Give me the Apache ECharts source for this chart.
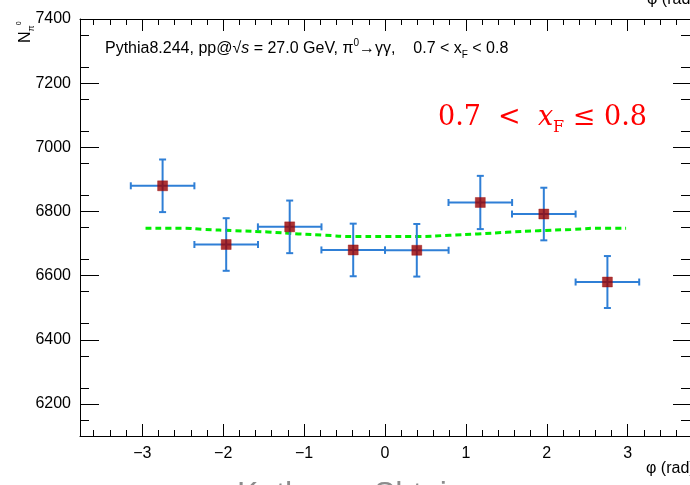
<!DOCTYPE html>
<html>
<head>
<meta charset="utf-8">
<script src="https://cdn.jsdelivr.net/npm/echarts@6/dist/echarts.min.js"></script>
<style>
html,body{margin:0;padding:0;background:#fff;}
#chart{width:690px;height:485px;}
</style>
</head>
<body>
<div id="chart"></div>
<script>
// ---- data ----
const phiCenters = [-2.749, -1.963, -1.178, -0.393, 0.393, 1.178, 1.963, 2.749];
const binHalfWidths = [0.393, 0.393, 0.393, 0.393, 0.393, 0.393, 0.393, 0.393];
const counts = [6880, 6697, 6752, 6680, 6679, 6828, 6792, 6580];
const countErrors = [82, 82, 82, 82, 82, 83, 82, 81];
const fitPhi = [-2.96, -2.50, -2.25, -1.85, -1.45, -1.07, -0.75, -0.40, 0.00, 0.40, 0.80, 1.15, 1.50, 1.90, 2.30, 2.70, 2.98];
const fitValues = [6748, 6748, 6744, 6740, 6736, 6730, 6726, 6722, 6722, 6722, 6726, 6730, 6735, 6740, 6744, 6748, 6748];
const xTickLabels = [-3, -2, -1, 0, 1, 2, 3];
const yTickLabels = [6200, 6400, 6600, 6800, 7000, 7200, 7400];
const X_MIN = -3.7699, X_MAX = 3.7699;
const Y_MIN = 6100, Y_MAX = 7400;

const xMinor = [];
for (let i = -18; i <= 18; i++) { if (i % 5 !== 0) xMinor.push(i / 5); }
const yMinor = [];
for (let v = 6150; v < 7400; v += 100) yMinor.push(v);

const FONT = '"Liberation Sans", Arial, Helvetica, sans-serif';
const SERIF = '"DejaVu Serif", "Liberation Serif", serif';
const minusFmt = v => (v < 0 ? '\u2212' + Math.abs(v) : String(v));

function xAx(pos, vals, len, showLine, showLabel) {
  return {
    type: 'value', position: pos, min: X_MIN, max: X_MAX,
    axisLine: { show: showLine, onZero: false, lineStyle: { color: '#000', width: 1 } },
    axisTick: { show: true, inside: true, length: len, customValues: vals, lineStyle: { color: '#000', width: 1 } },
    axisLabel: { show: showLabel, customValues: vals, formatter: minusFmt, margin: 10, fontSize: 16, color: '#000', fontFamily: FONT },
    splitLine: { show: false }
  };
}
function yAx(pos, vals, len, showLine, showLabel) {
  return {
    type: 'value', position: pos, min: Y_MIN, max: Y_MAX,
    axisLine: { show: showLine, onZero: false, lineStyle: { color: '#000', width: 1 } },
    axisTick: { show: true, inside: true, length: len, customValues: vals, lineStyle: { color: '#000', width: 1 } },
    axisLabel: { show: showLabel, customValues: vals, formatter: v => String(v), margin: 9, fontSize: 16, color: '#000', fontFamily: FONT },
    splitLine: { show: false }
  };
}

const points = phiCenters.map((p, i) => [p, counts[i], countErrors[i], binHalfWidths[i]]);
const fitData = fitPhi.map((p, i) => [p, fitValues[i]]);

const chart = echarts.init(document.getElementById('chart'), null, { renderer: 'canvas' });
chart.setOption({
  animation: false,
  backgroundColor: '#fff',
  grid: { left: 80, top: 19, width: 614, height: 417, containLabel: false },
  xAxis: [
    xAx('bottom', xTickLabels, 12, true, true),
    xAx('bottom', xMinor, 6, false, false),
    xAx('top', xTickLabels, 12, true, false),
    xAx('top', xMinor, 6, false, false)
  ],
  yAxis: [
    yAx('left', yTickLabels, 19, true, true),
    yAx('left', yMinor, 9, false, false),
    yAx('right', yTickLabels, 17, true, false),
    yAx('right', yMinor, 9, false, false)
  ],
  series: [
    {
      type: 'line', data: fitData, smooth: true, showSymbol: false, symbol: 'none',
      lineStyle: { color: '#00ee00', width: 3, type: [6, 4] }, z: 2
    },
    {
      type: 'custom', data: points, z: 3,
      renderItem: function (params, api) {
        const x = api.value(0), y = api.value(1), ey = api.value(2), ex = api.value(3);
        const pl = api.coord([x - ex, y]), pr = api.coord([x + ex, y]);
        const pt = api.coord([x, y + ey]), pb = api.coord([x, y - ey]);
        const st = { stroke: '#2f7fd6', lineWidth: 2 };
        const c = 3.5;
        return {
          type: 'group',
          children: [
            { type: 'line', shape: { x1: pl[0], y1: pl[1], x2: pr[0], y2: pr[1] }, style: st },
            { type: 'line', shape: { x1: pt[0], y1: pt[1], x2: pb[0], y2: pb[1] }, style: st },
            { type: 'line', shape: { x1: pl[0], y1: pl[1] - c, x2: pl[0], y2: pl[1] + c }, style: st },
            { type: 'line', shape: { x1: pr[0], y1: pr[1] - c, x2: pr[0], y2: pr[1] + c }, style: st },
            { type: 'line', shape: { x1: pt[0] - c, y1: pt[1], x2: pt[0] + c, y2: pt[1] }, style: st },
            { type: 'line', shape: { x1: pb[0] - c, y1: pb[1], x2: pb[0] + c, y2: pb[1] }, style: st }
          ]
        };
      }
    },
    {
      type: 'scatter', data: points.map(p => [p[0], p[1]]), symbol: 'rect', symbolSize: 10, z: 4,
      itemStyle: { color: '#990000', borderColor: 'rgba(153,0,0,0.45)', borderWidth: 1 }
    }
  ],
  graphic: [
    {
      type: 'text', left: 105, top: 38, z: 10,
      style: {
        text: '{b|Pythia8.244, pp@}{b|\u221A}{i|s}{b| = 27.0 GeV, \u03C0}{sup|0}{b|\u2192\u03B3\u03B3,    0.7 < x}{sub|F}{b| < 0.8}',
        rich: {
          b: { fontSize: 16, fontFamily: FONT, fill: '#000', lineHeight: 22 },
          i: { fontSize: 16, fontFamily: FONT, fontStyle: 'italic', fill: '#000', lineHeight: 22 },
          sup: { fontSize: 10, fontFamily: FONT, fill: '#000', lineHeight: 12, verticalAlign: 'top' },
          sub: { fontSize: 10, fontFamily: FONT, fill: '#000', lineHeight: 10, verticalAlign: 'bottom' }
        }
      }
    },
    {
      type: 'text', left: 438, top: 104, z: 10,
      style: {
        text: '{n|0.7  <  }{x|x}{s|F}{n| \u2264 0.8}',
        rich: {
          n: { fontSize: 27, fontFamily: SERIF, fill: '#ff0000', lineHeight: 36 },
          x: { fontSize: 27, fontFamily: SERIF, fontStyle: 'italic', fill: '#ff0000', lineHeight: 36 },
          s: { fontSize: 16, fontFamily: SERIF, fill: '#ff0000', lineHeight: 22, verticalAlign: 'bottom' }
        }
      }
    },
    {
      type: 'text', x: 16, y: 43, rotation: Math.PI / 2, z: 10,
      style: {
        text: '{n|N}{s|\u03C0}{t|0}',
        rich: {
          n: { fontSize: 16, fontFamily: FONT, fill: '#000', lineHeight: 20 },
          s: { fontSize: 9, fontFamily: FONT, fill: '#000', lineHeight: 10, verticalAlign: 'bottom' },
          t: { fontSize: 7, fontFamily: FONT, fill: '#000', lineHeight: 8, verticalAlign: 'top' }
        }
      }
    },
    {
      type: 'text', left: 646, top: 461, z: 10,
      style: { text: '\u03C6 (rad)', fontSize: 16, fontFamily: FONT, fill: '#000' }
    },
    {
      type: 'text', left: 647, top: -8, z: 10,
      style: { text: '\u03C6 (rad)', fontSize: 16, fontFamily: FONT, fill: '#000' }
    },
    {
      type: 'text', left: 237, top: 479, z: 10,
      style: { text: 'Katheryn Shtejer', fontSize: 32, fontFamily: FONT, fill: '#8c8c8c' }
    }
  ]
});
</script>
</body>
</html>
